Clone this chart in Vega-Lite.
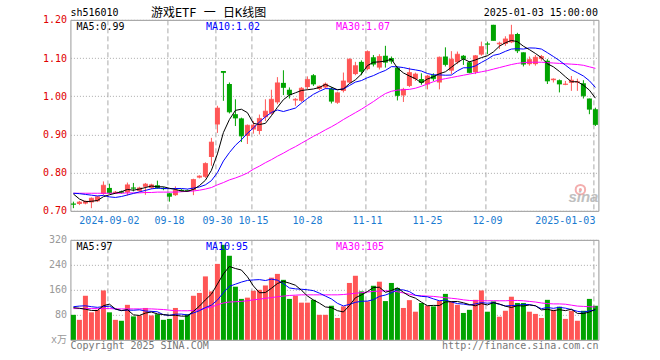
{
  "$schema": "https://vega.github.io/schema/vega-lite/v6.json",
  "autosize": {"type": "pad"},
  "padding": {"left": 41.42, "top": 5.84, "right": 62.5, "bottom": 5},
  "background": "white",
  "bounds": "flush",
  "spacing": 29,
  "config": {
    "view": {"stroke": "#999", "strokeWidth": 1},
    "text": {"font": "DejaVu Sans Mono, Noto Sans CJK SC", "fontSize": 10, "baseline": "middle", "align": "left"}
  },
  "datasets": {
    "k": [
      {"d":"2024-08-23","o":0.719,"h":0.724,"l":0.707,"c":0.717,"v":80,"m5":0.744,"m10":0.746,"m30":0.746,"vm5":103,"vm10":106,"vm30":100},
      {"d":"2024-08-26","o":0.718,"h":0.726,"l":0.715,"c":0.723,"v":64,"m5":0.731,"m10":0.745,"m30":0.746,"vm5":101,"vm10":108,"vm30":100},
      {"d":"2024-08-27","o":0.719,"h":0.727,"l":0.717,"c":0.725,"v":141,"m5":0.724,"m10":0.743,"m30":0.746,"vm5":98,"vm10":109,"vm30":100},
      {"d":"2024-08-28","o":0.722,"h":0.735,"l":0.707,"c":0.733,"v":88,"m5":0.725,"m10":0.741,"m30":0.746,"vm5":94,"vm10":106,"vm30":100},
      {"d":"2024-08-29","o":0.725,"h":0.739,"l":0.723,"c":0.737,"v":96,"m5":0.727,"m10":0.739,"m30":0.746,"vm5":93.8,"vm10":104,"vm30":100},
      {"d":"2024-08-30","o":0.744,"h":0.777,"l":0.742,"c":0.767,"v":158,"m5":0.737,"m10":0.7405,"m30":0.746,"vm5":109.4,"vm10":106.2,"vm30":100},
      {"d":"2024-09-02","o":0.760,"h":0.771,"l":0.744,"c":0.747,"v":88,"m5":0.742,"m10":0.7365,"m30":0.746,"vm5":114.2,"vm10":107.6,"vm30":100},
      {"d":"2024-09-03","o":0.746,"h":0.752,"l":0.744,"c":0.749,"v":64,"m5":0.746,"m10":0.735,"m30":0.746,"vm5":98.8,"vm10":98.4,"vm30":99},
      {"d":"2024-09-04","o":0.751,"h":0.753,"l":0.745,"c":0.748,"v":61,"m5":0.750,"m10":0.7375,"m30":0.746,"vm5":93.4,"vm10":93.7,"vm30":99},
      {"d":"2024-09-05","o":0.748,"h":0.774,"l":0.740,"c":0.768,"v":112,"m5":0.756,"m10":0.7415,"m30":0.747,"vm5":96.6,"vm10":95.2,"vm30":99},
      {"d":"2024-09-06","o":0.761,"h":0.773,"l":0.751,"c":0.759,"v":75,"m5":0.754,"m10":0.7455,"m30":0.747,"vm5":80,"vm10":94.7,"vm30":99},
      {"d":"2024-09-09","o":0.752,"h":0.763,"l":0.750,"c":0.760,"v":78,"m5":0.757,"m10":0.7495,"m30":0.747,"vm5":78,"vm10":96.1,"vm30":99},
      {"d":"2024-09-10","o":0.763,"h":0.773,"l":0.742,"c":0.770,"v":102,"m5":0.761,"m10":0.7535,"m30":0.748,"vm5":85.6,"vm10":92.2,"vm30":99},
      {"d":"2024-09-11","o":0.760,"h":0.771,"l":0.757,"c":0.768,"v":78,"m5":0.765,"m10":0.7575,"m30":0.748,"vm5":89,"vm10":91.2,"vm30":99},
      {"d":"2024-09-12","o":0.767,"h":0.779,"l":0.758,"c":0.760,"v":82,"m5":0.763,"m10":0.7595,"m30":0.749,"vm5":83,"vm10":89.8,"vm30":98},
      {"d":"2024-09-13","o":0.760,"h":0.762,"l":0.754,"c":0.758,"v":64,"m5":0.763,"m10":0.7585,"m30":0.749,"vm5":80.8,"vm10":80.4,"vm30":97},
      {"d":"2024-09-18","o":0.746,"h":0.747,"l":0.724,"c":0.738,"v":67,"m5":0.759,"m10":0.758,"m30":0.749,"vm5":78.6,"vm10":78.3,"vm30":95},
      {"d":"2024-09-19","o":0.741,"h":0.764,"l":0.739,"c":0.754,"v":102,"m5":0.756,"m10":0.7585,"m30":0.749,"vm5":78.6,"vm10":82.1,"vm30":93},
      {"d":"2024-09-20","o":0.755,"h":0.757,"l":0.750,"c":0.752,"v":64,"m5":0.752,"m10":0.7585,"m30":0.750,"vm5":75.8,"vm10":82.4,"vm30":93},
      {"d":"2024-09-23","o":0.754,"h":0.756,"l":0.750,"c":0.752,"v":82,"m5":0.751,"m10":0.757,"m30":0.751,"vm5":75.8,"vm10":79.4,"vm30":93},
      {"d":"2024-09-24","o":0.754,"h":0.784,"l":0.741,"c":0.782,"v":141,"m5":0.756,"m10":0.7595,"m30":0.752,"vm5":91.2,"vm10":86,"vm30":94},
      {"d":"2024-09-25","o":0.787,"h":0.793,"l":0.785,"c":0.791,"v":150,"m5":0.766,"m10":0.7625,"m30":0.754,"vm5":107.8,"vm10":93.2,"vm30":96},
      {"d":"2024-09-26","o":0.789,"h":0.827,"l":0.786,"c":0.824,"v":203,"m5":0.780,"m10":0.768,"m30":0.757,"vm5":128,"vm10":103.3,"vm30":101},
      {"d":"2024-09-27","o":0.841,"h":0.891,"l":0.818,"c":0.880,"v":155,"m5":0.806,"m10":0.779,"m30":0.761,"vm5":146.2,"vm10":111,"vm30":105},
      {"d":"2024-09-30","o":0.926,"h":0.975,"l":0.904,"c":0.969,"v":243,"m5":0.849,"m10":0.800,"m30":0.768,"vm5":178.4,"vm10":127.1,"vm30":112},
      {"d":"2024-10-08","o":1.066,"h":1.066,"l":0.988,"c":1.062,"v":304,"m5":0.905,"m10":0.8305,"m30":0.774,"vm5":211,"vm10":151.1,"vm30":118},
      {"d":"2024-10-09","o":1.032,"h":1.036,"l":0.955,"c":0.959,"v":269,"m5":0.939,"m10":0.8525,"m30":0.781,"vm5":234.8,"vm10":171.3,"vm30":121},
      {"d":"2024-10-10","o":0.953,"h":0.992,"l":0.922,"c":0.943,"v":170,"m5":0.963,"m10":0.8715,"m30":0.786,"vm5":228.2,"vm10":178.1,"vm30":122},
      {"d":"2024-10-11","o":0.942,"h":0.944,"l":0.880,"c":0.896,"v":131,"m5":0.966,"m10":0.886,"m30":0.792,"vm5":223.4,"vm10":184.8,"vm30":123},
      {"d":"2024-10-14","o":0.896,"h":0.926,"l":0.875,"c":0.924,"v":135,"m5":0.957,"m10":0.903,"m30":0.799,"vm5":201.8,"vm10":190.1,"vm30":125},
      {"d":"2024-10-15","o":0.913,"h":0.935,"l":0.902,"c":0.924,"v":157,"m5":0.929,"m10":0.917,"m30":0.809,"vm5":172.4,"vm10":191.7,"vm30":128},
      {"d":"2024-10-16","o":0.909,"h":0.952,"l":0.900,"c":0.942,"v":160,"m5":0.926,"m10":0.9325,"m30":0.817,"vm5":150.6,"vm10":192.7,"vm30":130},
      {"d":"2024-10-17","o":0.945,"h":0.992,"l":0.935,"c":0.961,"v":174,"m5":0.929,"m10":0.946,"m30":0.826,"vm5":151.4,"vm10":189.8,"vm30":133},
      {"d":"2024-10-18","o":0.955,"h":1.017,"l":0.952,"c":0.992,"v":199,"m5":0.949,"m10":0.9575,"m30":0.834,"vm5":165,"vm10":194.2,"vm30":135},
      {"d":"2024-10-21","o":0.984,"h":1.050,"l":0.979,"c":1.035,"v":211,"m5":0.971,"m10":0.964,"m30":0.843,"vm5":180.2,"vm10":191,"vm30":138},
      {"d":"2024-10-22","o":1.035,"h":1.068,"l":1.003,"c":1.023,"v":192,"m5":0.991,"m10":0.960,"m30":0.851,"vm5":187.2,"vm10":179.8,"vm30":140},
      {"d":"2024-10-23","o":1.017,"h":1.023,"l":0.994,"c":1.004,"v":131,"m5":1.003,"m10":0.9645,"m30":0.860,"vm5":181.4,"vm10":166,"vm30":142},
      {"d":"2024-10-24","o":0.989,"h":0.995,"l":0.975,"c":0.992,"v":141,"m5":1.009,"m10":0.969,"m30":0.868,"vm5":174.8,"vm10":163.1,"vm30":143},
      {"d":"2024-10-25","o":0.988,"h":1.024,"l":0.985,"c":1.021,"v":119,"m5":1.015,"m10":0.982,"m30":0.877,"vm5":158.8,"vm10":161.9,"vm30":144},
      {"d":"2024-10-28","o":1.024,"h":1.052,"l":1.018,"c":1.044,"v":119,"m5":1.017,"m10":0.994,"m30":0.886,"vm5":140.4,"vm10":160.3,"vm30":144},
      {"d":"2024-10-29","o":1.055,"h":1.058,"l":1.027,"c":1.032,"v":128,"m5":1.019,"m10":1.005,"m30":0.895,"vm5":127.6,"vm10":157.4,"vm30":144},
      {"d":"2024-10-30","o":1.019,"h":1.028,"l":1.016,"c":1.026,"v":80,"m5":1.023,"m10":1.013,"m30":0.903,"vm5":117.4,"vm10":149.4,"vm30":144},
      {"d":"2024-10-31","o":1.023,"h":1.036,"l":1.020,"c":1.032,"v":80,"m5":1.031,"m10":1.020,"m30":0.912,"vm5":105.2,"vm10":140,"vm30":144},
      {"d":"2024-11-01","o":1.020,"h":1.024,"l":0.981,"c":0.987,"v":109,"m5":1.024,"m10":1.0195,"m30":0.920,"vm5":103.2,"vm10":131,"vm30":144},
      {"d":"2024-11-04","o":0.983,"h":1.012,"l":0.980,"c":1.009,"v":70,"m5":1.017,"m10":1.017,"m30":0.929,"vm5":93.4,"vm10":116.9,"vm30":144},
      {"d":"2024-11-05","o":1.014,"h":1.062,"l":1.010,"c":1.040,"v":107,"m5":1.019,"m10":1.019,"m30":0.939,"vm5":89.2,"vm10":108.4,"vm30":145},
      {"d":"2024-11-06","o":1.036,"h":1.099,"l":1.034,"c":1.097,"v":182,"m5":1.033,"m10":1.028,"m30":0.948,"vm5":109.6,"vm10":113.5,"vm30":147},
      {"d":"2024-11-07","o":1.058,"h":1.090,"l":1.055,"c":1.080,"v":205,"m5":1.043,"m10":1.037,"m30":0.957,"vm5":134.6,"vm10":119.9,"vm30":149},
      {"d":"2024-11-08","o":1.090,"h":1.094,"l":1.055,"c":1.065,"v":155,"m5":1.058,"m10":1.041,"m30":0.966,"vm5":143.8,"vm10":123.5,"vm30":151},
      {"d":"2024-11-11","o":1.071,"h":1.120,"l":1.068,"c":1.117,"v":123,"m5":1.080,"m10":1.0485,"m30":0.976,"vm5":154.4,"vm10":123.9,"vm30":153},
      {"d":"2024-11-12","o":1.102,"h":1.108,"l":1.078,"c":1.084,"v":173,"m5":1.089,"m10":1.054,"m30":0.986,"vm5":167.6,"vm10":128.4,"vm30":155},
      {"d":"2024-11-13","o":1.075,"h":1.110,"l":1.070,"c":1.104,"v":186,"m5":1.090,"m10":1.0615,"m30":0.997,"vm5":168.4,"vm10":139,"vm30":156},
      {"d":"2024-11-14","o":1.106,"h":1.132,"l":1.075,"c":1.089,"v":124,"m5":1.092,"m10":1.0675,"m30":1.007,"vm5":152.2,"vm10":143.4,"vm30":157},
      {"d":"2024-11-15","o":1.100,"h":1.104,"l":1.085,"c":1.092,"v":182,"m5":1.097,"m10":1.0775,"m30":1.013,"vm5":157.6,"vm10":150.7,"vm30":156},
      {"d":"2024-11-18","o":1.075,"h":1.078,"l":0.989,"c":1.002,"v":166,"m5":1.074,"m10":1.077,"m30":1.016,"vm5":166.2,"vm10":160.3,"vm30":154},
      {"d":"2024-11-19","o":1.002,"h":1.022,"l":0.985,"c":1.018,"v":102,"m5":1.061,"m10":1.075,"m30":1.017,"vm5":152,"vm10":159.8,"vm30":150},
      {"d":"2024-11-20","o":1.027,"h":1.075,"l":1.024,"c":1.062,"v":127,"m5":1.053,"m10":1.0715,"m30":1.018,"vm5":140.2,"vm10":154.3,"vm30":146},
      {"d":"2024-11-21","o":1.045,"h":1.062,"l":1.040,"c":1.058,"v":90,"m5":1.046,"m10":1.069,"m30":1.021,"vm5":133.4,"vm10":142.8,"vm30":142},
      {"d":"2024-11-22","o":1.045,"h":1.060,"l":1.030,"c":1.036,"v":118,"m5":1.035,"m10":1.066,"m30":1.026,"vm5":120.6,"vm10":139.1,"vm30":141},
      {"d":"2024-11-25","o":1.031,"h":1.056,"l":1.018,"c":1.053,"v":109,"m5":1.045,"m10":1.0595,"m30":1.032,"vm5":109.2,"vm10":137.7,"vm30":140},
      {"d":"2024-11-26","o":1.055,"h":1.060,"l":1.040,"c":1.046,"v":107,"m5":1.051,"m10":1.056,"m30":1.038,"vm5":110.2,"vm10":131.1,"vm30":139},
      {"d":"2024-11-27","o":1.036,"h":1.104,"l":1.018,"c":1.102,"v":125,"m5":1.059,"m10":1.056,"m30":1.043,"vm5":109.8,"vm10":125,"vm30":137},
      {"d":"2024-11-28","o":1.104,"h":1.128,"l":1.078,"c":1.083,"v":147,"m5":1.064,"m10":1.055,"m30":1.046,"vm5":121.2,"vm10":127.3,"vm30":135},
      {"d":"2024-11-29","o":1.067,"h":1.118,"l":1.058,"c":1.097,"v":123,"m5":1.076,"m10":1.0555,"m30":1.049,"vm5":122.2,"vm10":121.4,"vm30":133},
      {"d":"2024-12-02","o":1.089,"h":1.117,"l":1.084,"c":1.110,"v":112,"m5":1.088,"m10":1.0665,"m30":1.052,"vm5":122.8,"vm10":116,"vm30":131},
      {"d":"2024-12-03","o":1.106,"h":1.108,"l":1.082,"c":1.098,"v":86,"m5":1.098,"m10":1.0745,"m30":1.055,"vm5":118.6,"vm10":114.4,"vm30":128},
      {"d":"2024-12-04","o":1.089,"h":1.092,"l":1.060,"c":1.062,"v":96,"m5":1.090,"m10":1.0745,"m30":1.058,"vm5":112.8,"vm10":111.3,"vm30":126},
      {"d":"2024-12-05","o":1.063,"h":1.108,"l":1.058,"c":1.106,"v":128,"m5":1.095,"m10":1.0795,"m30":1.061,"vm5":109,"vm10":115.1,"vm30":125},
      {"d":"2024-12-06","o":1.109,"h":1.143,"l":1.106,"c":1.130,"v":158,"m5":1.101,"m10":1.0885,"m30":1.064,"vm5":116,"vm10":119.1,"vm30":125},
      {"d":"2024-12-09","o":1.138,"h":1.143,"l":1.110,"c":1.136,"v":90,"m5":1.106,"m10":1.097,"m30":1.067,"vm5":111.6,"vm10":117.2,"vm30":125},
      {"d":"2024-12-10","o":1.187,"h":1.187,"l":1.146,"c":1.146,"v":123,"m5":1.116,"m10":1.107,"m30":1.071,"vm5":119,"vm10":118.8,"vm30":125},
      {"d":"2024-12-11","o":1.136,"h":1.143,"l":1.124,"c":1.139,"v":74,"m5":1.131,"m10":1.1105,"m30":1.075,"vm5":114.6,"vm10":113.7,"vm30":125},
      {"d":"2024-12-12","o":1.137,"h":1.157,"l":1.132,"c":1.150,"v":93,"m5":1.140,"m10":1.1175,"m30":1.079,"vm5":107.6,"vm10":108.3,"vm30":125},
      {"d":"2024-12-13","o":1.141,"h":1.187,"l":1.139,"c":1.161,"v":138,"m5":1.146,"m10":1.1235,"m30":1.083,"vm5":103.6,"vm10":109.8,"vm30":126},
      {"d":"2024-12-16","o":1.163,"h":1.166,"l":1.113,"c":1.119,"v":118,"m5":1.143,"m10":1.1245,"m30":1.086,"vm5":109.2,"vm10":110.4,"vm30":126},
      {"d":"2024-12-17","o":1.115,"h":1.115,"l":1.078,"c":1.084,"v":118,"m5":1.131,"m10":1.1235,"m30":1.088,"vm5":108.2,"vm10":113.6,"vm30":125},
      {"d":"2024-12-18","o":1.084,"h":1.104,"l":1.080,"c":1.096,"v":90,"m5":1.122,"m10":1.1265,"m30":1.089,"vm5":111.4,"vm10":113,"vm30":123},
      {"d":"2024-12-19","o":1.084,"h":1.108,"l":1.080,"c":1.102,"v":83,"m5":1.112,"m10":1.126,"m30":1.089,"vm5":109.4,"vm10":108.5,"vm30":121},
      {"d":"2024-12-20","o":1.098,"h":1.108,"l":1.093,"c":1.104,"v":70,"m5":1.101,"m10":1.1235,"m30":1.089,"vm5":95.8,"vm10":99.7,"vm30":118},
      {"d":"2024-12-23","o":1.093,"h":1.097,"l":1.032,"c":1.040,"v":128,"m5":1.085,"m10":1.114,"m30":1.088,"vm5":97.8,"vm10":103.5,"vm30":116},
      {"d":"2024-12-24","o":1.042,"h":1.047,"l":1.036,"c":1.045,"v":96,"m5":1.077,"m10":1.104,"m30":1.087,"vm5":93.4,"vm10":100.8,"vm30":115},
      {"d":"2024-12-25","o":1.042,"h":1.044,"l":1.010,"c":1.032,"v":106,"m5":1.065,"m10":1.0935,"m30":1.086,"vm5":96.6,"vm10":104,"vm30":115},
      {"d":"2024-12-26","o":1.030,"h":1.040,"l":1.029,"c":1.032,"v":67,"m5":1.051,"m10":1.0815,"m30":1.085,"vm5":93.4,"vm10":101.4,"vm30":114},
      {"d":"2024-12-27","o":1.035,"h":1.053,"l":1.014,"c":1.042,"v":93,"m5":1.038,"m10":1.0695,"m30":1.084,"vm5":98,"vm10":96.9,"vm30":111},
      {"d":"2024-12-30","o":1.036,"h":1.046,"l":1.014,"c":1.038,"v":61,"m5":1.038,"m10":1.0615,"m30":1.083,"vm5":84.6,"vm10":91.2,"vm30":108},
      {"d":"2024-12-31","o":1.034,"h":1.042,"l":0.994,"c":1.001,"v":93,"m5":1.029,"m10":1.053,"m30":1.081,"vm5":84,"vm10":88.7,"vm30":107},
      {"d":"2025-01-02","o":0.994,"h":0.994,"l":0.953,"c":0.966,"v":131,"m5":1.016,"m10":1.0405,"m30":1.077,"vm5":89,"vm10":92.8,"vm30":106},
      {"d":"2025-01-03","o":0.966,"h":0.970,"l":0.922,"c":0.926,"v":109,"m5":0.995,"m10":1.023,"m30":1.073,"vm5":97.4,"vm10":95.4,"vm30":105}
    ],
    "lab": [
      {"k":"sh","d":"2024-08-23","y":1.219,"t":"sh516010"},
      {"k":"title","d":"2024-09-11","y":1.219,"t":"游戏ETF 一 日K线图"},
      {"k":"time","d":"2025-01-03","y":1.219,"t":"2025-01-03 15:00:00"},
      {"k":"m5","d":"2024-08-26","y":1.181,"t":"MA5:0.99"},
      {"k":"m10","d":"2024-09-26","y":1.181,"t":"MA10:1.02"},
      {"k":"m30","d":"2024-11-04","y":1.181,"t":"MA30:1.07"},
      {"k":"sina","d":"2024-12-27","y":0.735,"t":"sina"},
      {"k":"eye","d":"2024-12-31","y":0.7555,"t":""},
      {"k":"v5","d":"2024-08-26","y":297,"t":"MA5:97"},
      {"k":"v10","d":"2024-09-26","y":297,"t":"MA10:95"},
      {"k":"v30","d":"2024-11-04","y":297,"t":"MA30:105"},
      {"k":"copy","d":"2024-08-23","y":-19,"t":"Copyright 2025 SINA.COM"},
      {"k":"url","d":"2025-01-03","y":-19,"t":"http://finance.sina.com.cn"}
    ]
  },
  "vconcat": [
    {
      "width": 528,
      "height": 191,
      "data": {"name": "k"},
      "layer": [
        {
          "mark": {"type": "rule", "strokeWidth": 1},
          "encoding": {
            "x": {"field": "d", "type": "ordinal", "sort": null, "title": null,
              "scale": {"type": "band", "paddingInner": 0, "paddingOuter": 0},
              "axis": {
                "values": ["2024-09-02","2024-09-18","2024-09-30","2024-10-15","2024-10-28","2024-11-11","2024-11-25","2024-12-09","2025-01-03"],
                "labelExpr": "(datum.value == '2024-09-02' || datum.value == '2025-01-03') ? datum.value : substring(datum.value, 5)",
                "labelColor": "#1a7bd1", "labelFont": "DejaVu Sans Mono", "labelFontSize": 10, "labelPadding": 5,
                "labelAlign": {"condition": {"test": "datum.value == '2025-01-03'", "value": "right"}, "value": "center"},
                "labelOverlap": false, "labelFlush": false, "labelAngle": 0,
                "ticks": false, "domain": false,
                "grid": true, "gridColor": "#aaa", "gridDash": [5, 3], "bandPosition": 0.1667
              }
            },
            "y": {"field": "l", "type": "quantitative", "title": null,
              "scale": {"domain": [0.7, 1.2], "nice": false, "zero": false},
              "axis": {
                "values": [0.7, 0.8, 0.9, 1.0, 1.1, 1.2], "tickCount": 20, "format": ".2f",
                "labelColor": "#e00000", "labelFont": "DejaVu Sans Mono", "labelFontSize": 10, "labelPadding": 4,
                "labelOverlap": false, "labelFlush": false,
                "ticks": false, "domain": false,
                "grid": true, "gridColor": "#aaa", "gridDash": [1, 2]
              }
            },
            "y2": {"field": "h"},
            "color": {"condition": {"test": "datum.c >= datum.o", "value": "#ff5656"}, "value": "#00a300"}
          }
        },
        {
          "mark": {"type": "bar", "width": 5},
          "encoding": {
            "x": {"field": "d", "type": "ordinal", "sort": null, "title": null, "scale": {"type": "band", "paddingInner": 0, "paddingOuter": 0}},
            "y": {"field": "o", "type": "quantitative", "title": null},
            "y2": {"field": "c"},
            "color": {"condition": {"test": "datum.c >= datum.o", "value": "#ff5656"}, "value": "#00a300"}
          }
        },
        {
          "mark": {"type": "tick", "thickness": 1, "size": 5, "orient": "horizontal"},
          "encoding": {
            "x": {"field": "d", "type": "ordinal", "sort": null, "title": null, "scale": {"type": "band", "paddingInner": 0, "paddingOuter": 0}},
            "y": {"field": "c", "type": "quantitative", "title": null},
            "color": {"condition": {"test": "datum.c >= datum.o", "value": "#ff5656"}, "value": "#00a300"}
          }
        },
        {
          "mark": {"type": "line", "color": "#ff00ff", "strokeWidth": 1},
          "encoding": {
            "x": {"field": "d", "type": "ordinal", "sort": null, "title": null, "scale": {"type": "band", "paddingInner": 0, "paddingOuter": 0}},
            "y": {"field": "m30", "type": "quantitative", "title": null}
          }
        },
        {
          "mark": {"type": "line", "color": "#0000ff", "strokeWidth": 1},
          "encoding": {
            "x": {"field": "d", "type": "ordinal", "sort": null, "title": null, "scale": {"type": "band", "paddingInner": 0, "paddingOuter": 0}},
            "y": {"field": "m10", "type": "quantitative", "title": null}
          }
        },
        {
          "mark": {"type": "line", "color": "#000000", "strokeWidth": 1},
          "encoding": {
            "x": {"field": "d", "type": "ordinal", "sort": null, "title": null, "scale": {"type": "band", "paddingInner": 0, "paddingOuter": 0}},
            "y": {"field": "m5", "type": "quantitative", "title": null}
          }
        },
        {
          "data": {"name": "lab"},
          "transform": [{"filter": "datum.k == 'sh' || datum.k == 'm5'"}],
          "mark": {"type": "text", "color": "#000"},
          "encoding": {
            "x": {"field": "d", "type": "ordinal", "sort": null, "title": null, "bandPosition": 0, "scale": {"type": "band", "paddingInner": 0, "paddingOuter": 0}},
            "y": {"field": "y", "type": "quantitative", "title": null},
            "text": {"field": "t"}
          }
        },
        {
          "data": {"name": "lab"},
          "transform": [{"filter": "datum.k == 'title'"}],
          "mark": {"type": "text", "color": "#000", "fontSize": 12, "dx": 2.5},
          "encoding": {
            "x": {"field": "d", "type": "ordinal", "sort": null, "title": null, "bandPosition": 0, "scale": {"type": "band", "paddingInner": 0, "paddingOuter": 0}},
            "y": {"field": "y", "type": "quantitative", "title": null},
            "text": {"field": "t"}
          }
        },
        {
          "data": {"name": "lab"},
          "transform": [{"filter": "datum.k == 'time'"}],
          "mark": {"type": "text", "color": "#000", "align": "right", "dx": 5.5},
          "encoding": {
            "x": {"field": "d", "type": "ordinal", "sort": null, "title": null, "bandPosition": 0, "scale": {"type": "band", "paddingInner": 0, "paddingOuter": 0}},
            "y": {"field": "y", "type": "quantitative", "title": null},
            "text": {"field": "t"}
          }
        },
        {
          "data": {"name": "lab"},
          "transform": [{"filter": "datum.k == 'm10'"}],
          "mark": {"type": "text", "color": "#0000ff", "dx": 3.5},
          "encoding": {
            "x": {"field": "d", "type": "ordinal", "sort": null, "title": null, "bandPosition": 0, "scale": {"type": "band", "paddingInner": 0, "paddingOuter": 0}},
            "y": {"field": "y", "type": "quantitative", "title": null},
            "text": {"field": "t"}
          }
        },
        {
          "data": {"name": "lab"},
          "transform": [{"filter": "datum.k == 'm30'"}],
          "mark": {"type": "text", "color": "#ff00ff", "dx": 1.5},
          "encoding": {
            "x": {"field": "d", "type": "ordinal", "sort": null, "title": null, "bandPosition": 0, "scale": {"type": "band", "paddingInner": 0, "paddingOuter": 0}},
            "y": {"field": "y", "type": "quantitative", "title": null},
            "text": {"field": "t"}
          }
        },
        {
          "data": {"name": "lab"},
          "transform": [{"filter": "datum.k == 'eye'"}],
          "mark": {"type": "point", "shape": "circle", "size": 90, "filled": false, "stroke": "#f2a0a0", "strokeWidth": 2, "opacity": 0.85},
          "encoding": {
            "x": {"field": "d", "type": "ordinal", "sort": null, "title": null, "bandPosition": 0, "scale": {"type": "band", "paddingInner": 0, "paddingOuter": 0}},
            "y": {"field": "y", "type": "quantitative", "title": null}
          }
        },
        {
          "data": {"name": "lab"},
          "transform": [{"filter": "datum.k == 'eye'"}],
          "mark": {"type": "point", "shape": "circle", "size": 10, "filled": true, "color": "#f2a0a0", "opacity": 0.9},
          "encoding": {
            "x": {"field": "d", "type": "ordinal", "sort": null, "title": null, "bandPosition": 0, "scale": {"type": "band", "paddingInner": 0, "paddingOuter": 0}},
            "y": {"field": "y", "type": "quantitative", "title": null}
          }
        },
        {
          "data": {"name": "lab"},
          "transform": [{"filter": "datum.k == 'sina'"}],
          "mark": {"type": "text", "color": "#b0b0b0", "font": "Liberation Sans", "fontSize": 15, "fontStyle": "italic", "fontWeight": "bold", "opacity": 0.8},
          "encoding": {
            "x": {"field": "d", "type": "ordinal", "sort": null, "title": null, "bandPosition": 0, "scale": {"type": "band", "paddingInner": 0, "paddingOuter": 0}},
            "y": {"field": "y", "type": "quantitative", "title": null},
            "text": {"field": "t"}
          }
        }
      ]
    },
    {
      "width": 528,
      "height": 100,
      "data": {"name": "k"},
      "layer": [
        {
          "mark": {"type": "bar", "width": 5},
          "encoding": {
            "x": {"field": "d", "type": "ordinal", "sort": null, "title": null,
              "scale": {"type": "band", "paddingInner": 0, "paddingOuter": 0},
              "axis": {
                "values": ["2024-09-02","2024-09-18","2024-09-30","2024-10-15","2024-10-28","2024-11-11","2024-11-25","2024-12-09","2025-01-03"],
                "labels": false, "ticks": false, "domain": false,
                "grid": true, "gridColor": "#aaa", "gridDash": [5, 3], "bandPosition": 0.1667
              }
            },
            "y": {"field": "v", "type": "quantitative", "title": null, "stack": null,
              "scale": {"domain": [0, 320], "nice": false},
              "axis": {
                "values": [0, 80, 160, 240, 320], "tickCount": 20,
                "labelExpr": "datum.value == 0 ? 'x万' : datum.label",
                "labelColor": "#999", "labelFont": "DejaVu Sans Mono, Noto Sans CJK SC", "labelFontSize": 10, "labelPadding": 4,
                "labelOverlap": false, "labelFlush": false,
                "ticks": false, "domain": false,
                "grid": true, "gridColor": "#aaa", "gridDash": [1, 2]
              }
            },
            "color": {"condition": {"test": "datum.c >= datum.o", "value": "#ff5656"}, "value": "#00a300"}
          }
        },
        {
          "mark": {"type": "line", "color": "#ff00ff", "strokeWidth": 1},
          "encoding": {
            "x": {"field": "d", "type": "ordinal", "sort": null, "title": null, "scale": {"type": "band", "paddingInner": 0, "paddingOuter": 0}},
            "y": {"field": "vm30", "type": "quantitative", "title": null}
          }
        },
        {
          "mark": {"type": "line", "color": "#0000ff", "strokeWidth": 1},
          "encoding": {
            "x": {"field": "d", "type": "ordinal", "sort": null, "title": null, "scale": {"type": "band", "paddingInner": 0, "paddingOuter": 0}},
            "y": {"field": "vm10", "type": "quantitative", "title": null}
          }
        },
        {
          "mark": {"type": "line", "color": "#000000", "strokeWidth": 1},
          "encoding": {
            "x": {"field": "d", "type": "ordinal", "sort": null, "title": null, "scale": {"type": "band", "paddingInner": 0, "paddingOuter": 0}},
            "y": {"field": "vm5", "type": "quantitative", "title": null}
          }
        },
        {
          "data": {"name": "lab"},
          "transform": [{"filter": "datum.k == 'v5'"}],
          "mark": {"type": "text", "color": "#000"},
          "encoding": {
            "x": {"field": "d", "type": "ordinal", "sort": null, "title": null, "bandPosition": 0, "scale": {"type": "band", "paddingInner": 0, "paddingOuter": 0}},
            "y": {"field": "y", "type": "quantitative", "title": null},
            "text": {"field": "t"}
          }
        },
        {
          "data": {"name": "lab"},
          "transform": [{"filter": "datum.k == 'v10'"}],
          "mark": {"type": "text", "color": "#0000ff", "dx": 3.5},
          "encoding": {
            "x": {"field": "d", "type": "ordinal", "sort": null, "title": null, "bandPosition": 0, "scale": {"type": "band", "paddingInner": 0, "paddingOuter": 0}},
            "y": {"field": "y", "type": "quantitative", "title": null},
            "text": {"field": "t"}
          }
        },
        {
          "data": {"name": "lab"},
          "transform": [{"filter": "datum.k == 'v30'"}],
          "mark": {"type": "text", "color": "#ff00ff", "dx": 1.5},
          "encoding": {
            "x": {"field": "d", "type": "ordinal", "sort": null, "title": null, "bandPosition": 0, "scale": {"type": "band", "paddingInner": 0, "paddingOuter": 0}},
            "y": {"field": "y", "type": "quantitative", "title": null},
            "text": {"field": "t"}
          }
        },
        {
          "data": {"name": "lab"},
          "transform": [{"filter": "datum.k == 'copy'"}],
          "mark": {"type": "text", "color": "#777"},
          "encoding": {
            "x": {"field": "d", "type": "ordinal", "sort": null, "title": null, "bandPosition": 0, "scale": {"type": "band", "paddingInner": 0, "paddingOuter": 0}},
            "y": {"field": "y", "type": "quantitative", "title": null},
            "text": {"field": "t"}
          }
        },
        {
          "data": {"name": "lab"},
          "transform": [{"filter": "datum.k == 'url'"}],
          "mark": {"type": "text", "color": "#777", "align": "right", "dx": 6},
          "encoding": {
            "x": {"field": "d", "type": "ordinal", "sort": null, "title": null, "bandPosition": 0, "scale": {"type": "band", "paddingInner": 0, "paddingOuter": 0}},
            "y": {"field": "y", "type": "quantitative", "title": null},
            "text": {"field": "t"}
          }
        }
      ]
    }
  ]
}
